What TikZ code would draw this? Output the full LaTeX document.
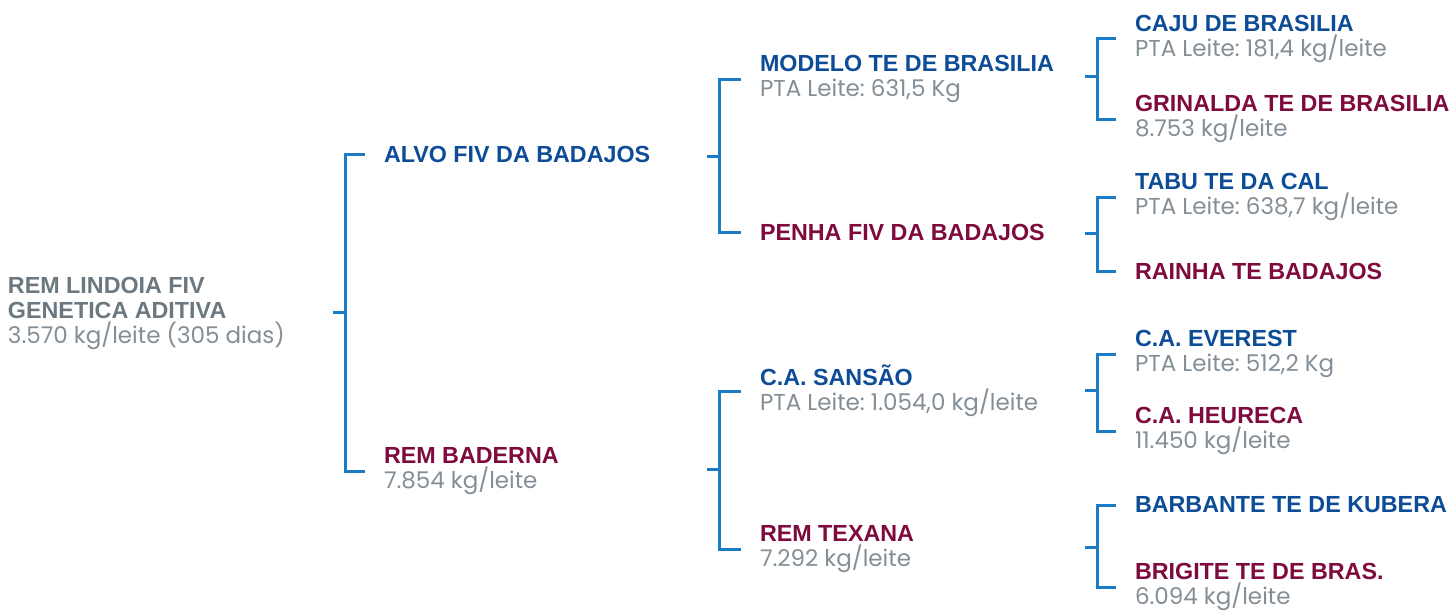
\documentclass[tikz,border=0pt]{standalone}
\usepackage{fontspec}
\setmainfont{Liberation Sans}
\newfontfamily\infofont{Poppins}
\frenchspacing

\definecolor{sireblue}{HTML}{0D4C96}
\definecolor{damwine}{HTML}{7E0A3E}
\definecolor{rootgrey}{HTML}{6B7880}
\definecolor{infogrey}{HTML}{848E96}
\definecolor{linkblue}{HTML}{1A7CC6}

\newcommand{\info}[1]{{\infofont\mdseries\fontsize{23}{25}\selectfont\color{infogrey}#1}}

\begin{document}
\begin{tikzpicture}[x=1pt,y=-1pt,
  animal/.style={anchor=west,align=left,inner sep=0pt,outer sep=0pt,font=\fontsize{23.3}{25}\selectfont\bfseries},
  sire/.style={animal,text=sireblue},
  dam/.style={animal,text=damwine},
  link/.style={draw=linkblue,line width=3pt}]
\useasboundingbox (0,0) rectangle (1450,610);

% animal
\node[animal,text=rootgrey] (lindoia) at (8,313) {REM LINDOIA FIV\\GENETICA ADITIVA\\\info{3.570 kg/leite (305 dias)}};

% parents
\node[sire] (alvo) at (384,154) {ALVO FIV DA BADAJOS};
\node[dam] (baderna) at (384,471) {REM BADERNA\\\info{7.854 kg/leite}};

% grandparents
\node[sire] (modelo) at (760,79) {MODELO TE DE BRASILIA\\\info{PTA Leite: 631,5 Kg}};
\node[dam] (penha) at (760,232) {PENHA FIV DA BADAJOS};
\node[sire] (sansao) at (760,391) {C.A. SANSÃO\\\info{PTA Leite: 1.054,0 kg/leite}};
\node[dam] (texana) at (760,549) {REM TEXANA\\\info{7.292 kg/leite}};

% great-grandparents
\node[sire] (caju) at (1135,39) {CAJU DE BRASILIA\\\info{PTA Leite: 181,4 kg/leite}};
\node[dam] (grinalda) at (1135,119) {GRINALDA TE DE BRASILIA\\\info{8.753 kg/leite}};
\node[sire] (tabu) at (1135,197) {TABU TE DA CAL\\\info{PTA Leite: 638,7 kg/leite}};
\node[dam] (rainha) at (1135,271) {RAINHA TE BADAJOS};
\node[sire] (everest) at (1135,354) {C.A. EVEREST\\\info{PTA Leite: 512,2 Kg}};
\node[dam] (heureca) at (1135,431) {C.A. HEURECA\\\info{11.450 kg/leite}};
\node[sire] (barbante) at (1135,505) {BARBANTE TE DE KUBERA};
\node[dam] (brigite) at (1135,587) {BRIGITE TE DE BRAS.\\\info{6.094 kg/leite}};

% brackets
\coordinate (j0) at (345,312);
\coordinate (j1) at (719,156);
\coordinate (j2) at (719,469);
\coordinate (j3) at (1097,76);
\coordinate (j4) at (1097,233);
\coordinate (j5) at (1097,390);
\coordinate (j6) at (1097,547);

\draw[link] ([xshift=-12pt]j0) -- (j0) |- ([xshift=-19pt]alvo.west);
\draw[link] (j0) |- ([xshift=-19pt]baderna.west);
\draw[link] ([xshift=-12pt]j1) -- (j1) |- ([xshift=-19pt]modelo.west);
\draw[link] (j1) |- ([xshift=-19pt]penha.west);
\draw[link] ([xshift=-12pt]j2) -- (j2) |- ([xshift=-19pt]sansao.west);
\draw[link] (j2) |- ([xshift=-19pt]texana.west);
\draw[link] ([xshift=-12pt]j3) -- (j3) |- ([xshift=-19pt]caju.west);
\draw[link] (j3) |- ([xshift=-19pt]grinalda.west);
\draw[link] ([xshift=-12pt]j4) -- (j4) |- ([xshift=-19pt]tabu.west);
\draw[link] (j4) |- ([xshift=-19pt]rainha.west);
\draw[link] ([xshift=-12pt]j5) -- (j5) |- ([xshift=-19pt]everest.west);
\draw[link] (j5) |- ([xshift=-19pt]heureca.west);
\draw[link] ([xshift=-12pt]j6) -- (j6) |- ([xshift=-19pt]barbante.west);
\draw[link] (j6) |- ([xshift=-19pt]brigite.west);
\end{tikzpicture}
\end{document}
